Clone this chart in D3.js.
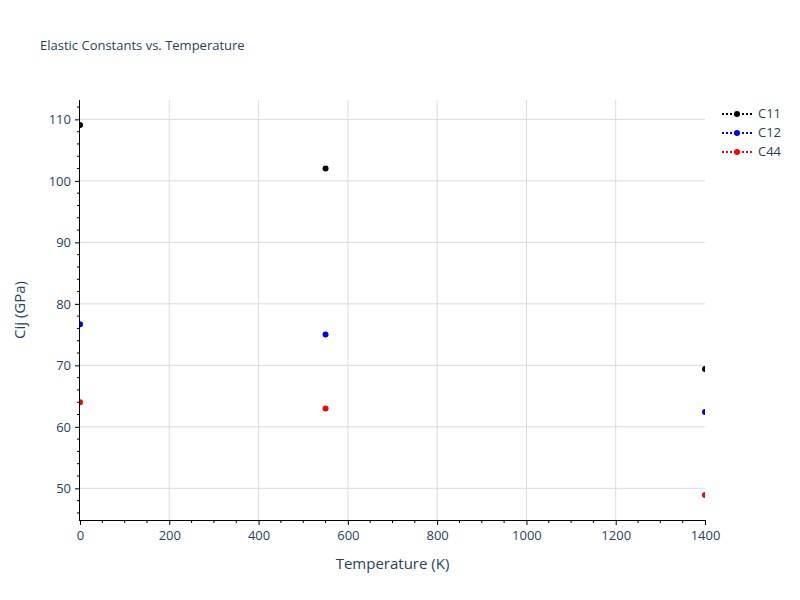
<!DOCTYPE html>
<html><head><meta charset="utf-8">
<script src="https://cdn.jsdelivr.net/npm/d3@7"></script>
<style>body{margin:0;background:#fff;} text{font-family:"Open Sans",verdana,arial,sans-serif;}</style>
</head><body>
<svg id="c" width="800" height="600"></svg>
<script>
const temperatures = [0, 550, 1400];
const seriesNames = ["C11", "C12", "C44"];
const seriesColors = ["#000000", "#0000ff", "#ff0000"];
const c11 = [109.1, 102.0, 69.4];
const c12 = [76.7, 75.0, 62.4];
const c44 = [64.0, 63.0, 48.9];
const xTicks = [0, 200, 400, 600, 800, 1000, 1200, 1400];
const yTicks = [50, 60, 70, 80, 90, 100, 110];
const seriesValues = [c11, c12, c44];

const svg = d3.select("#c");
const L = 80, R = 705, T = 100, B = 520;
const x = d3.scaleLinear().domain([0, 1400]).range([L, R]);
const y = d3.scaleLinear().domain([44.85, 113.15]).range([B, T]);
const fc = "#2a3f5f";

// grid
svg.append("g").selectAll("line").data(yTicks).join("line")
  .attr("x1", L).attr("x2", R).attr("y1", d => y(d)).attr("y2", d => y(d))
  .attr("stroke", "#dcdcdc").attr("stroke-width", 1);
svg.append("g").selectAll("line").data(xTicks.filter(d => d > 0 && d < 1400)).join("line")
  .attr("y1", T).attr("y2", B).attr("x1", d => x(d)).attr("x2", d => x(d))
  .attr("stroke", "#dcdcdc").attr("stroke-width", 1);

// clip
svg.append("clipPath").attr("id", "clip").append("rect")
  .attr("x", L).attr("y", T).attr("width", R - L).attr("height", B - T);

const pts = svg.append("g").attr("clip-path", "url(#clip)");
seriesValues.forEach((vals, i) => {
  pts.selectAll(null).data(temperatures.map((t, j) => [t, vals[j]])).join("circle")
    .attr("cx", d => x(d[0])).attr("cy", d => y(d[1])).attr("r", 3)
    .attr("fill", seriesColors[i]);
});

// minor ticks
const xMinor = d3.range(0, 1401, 50).filter(d => d % 200 !== 0);
const yMinor = d3.range(46, 113, 2).filter(d => d % 10 !== 0);
const xAxis = svg.append("g").attr("transform", `translate(0,${B})`)
  .call(d3.axisBottom(x).tickValues(xTicks).tickSize(5).tickSizeOuter(0).tickPadding(4).tickFormat(d3.format("d")));
xAxis.select(".domain").attr("stroke", "#000").attr("d", `M${L - 1},0.5H${R}`);
xAxis.selectAll(".tick line").attr("stroke", "#000");
xAxis.selectAll("text").attr("fill", fc).style("font-size", "13px").attr("dy", "0.85em");
svg.append("g").selectAll("line").data(xMinor).join("line")
  .attr("x1", d => x(d)).attr("x2", d => x(d)).attr("y1", B).attr("y2", B + 3)
  .attr("stroke", "#000");

const yAxis = svg.append("g").attr("transform", `translate(${L},0)`)
  .call(d3.axisLeft(y).tickValues(yTicks).tickSize(5).tickSizeOuter(0).tickPadding(4));
yAxis.select(".domain").attr("stroke", "#000").attr("d", `M-0.5,${T}V${B + 1}`);
yAxis.selectAll(".tick line").attr("stroke", "#000");
yAxis.selectAll("text").attr("fill", fc).style("font-size", "13px");
svg.append("g").selectAll("line").data(yMinor).join("line")
  .attr("x1", L - 3).attr("x2", L).attr("y1", d => y(d)).attr("y2", d => y(d))
  .attr("stroke", "#000");

// titles
svg.append("text").attr("x", 40).attr("y", 50).text("Elastic Constants vs. Temperature")
  .attr("fill", fc).style("font-size", "13px");
svg.append("text").attr("x", (L + R) / 2).attr("y", 569).attr("text-anchor", "middle")
  .text("Temperature (K)").attr("fill", fc).style("font-size", "15px");
svg.append("text").attr("transform", `translate(25,${(T + B) / 2}) rotate(-90)`)
  .attr("text-anchor", "middle").text("Cij (GPa)").attr("fill", fc).style("font-size", "15px");

// legend
const lg = svg.append("g");
seriesNames.forEach((n, i) => {
  const yy = 114 + i * 19;
  lg.append("line").attr("x1", 722).attr("x2", 752).attr("y1", yy).attr("y2", yy)
    .attr("stroke", seriesColors[i]).attr("stroke-width", 2).attr("stroke-dasharray", "2,2");
  lg.append("circle").attr("cx", 737).attr("cy", yy).attr("r", 3).attr("fill", seriesColors[i]);
  lg.append("text").attr("x", 758).attr("y", yy + 4).text(n).attr("fill", fc).style("font-size", "13px");
});
</script>
</body></html>
